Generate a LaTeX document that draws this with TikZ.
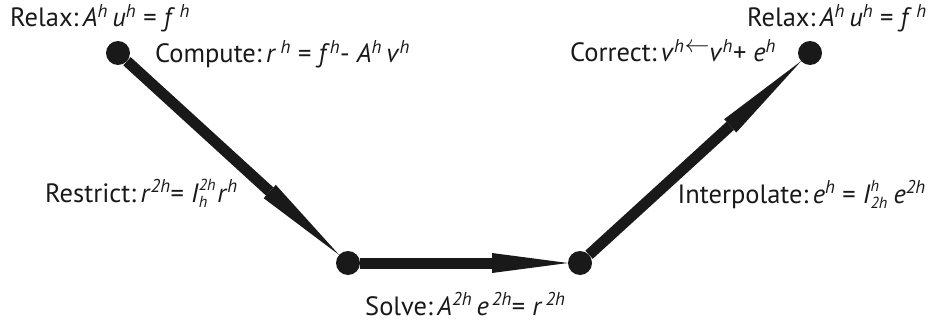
\documentclass[tikz,border=0pt]{standalone}
\usepackage{fontspec}
\setmainfont{PT Sans}
\usetikzlibrary{calc}
\newcommand\hup[1]{\textsuperscript{\itshape #1}}
\newcommand\supsub[2]{\makebox[0.7em][l]{\raisebox{0.42em}{\rlap{\fontsize{16pt}{16pt}\selectfont\itshape #1}}\raisebox{-0.22em}{\fontsize{16pt}{16pt}\selectfont\itshape #2}}}
\tikzset{
  dot/.style={circle,fill=black!90,minimum size=24pt,inner sep=0pt},
  lbl/.style={anchor=base west,inner sep=0pt,font=\fontsize{26.5pt}{30pt}\selectfont,text=black!90},
  shaft/.style={line width=11pt,black!90},
  head/.style={fill=black!90}
}
\begin{document}
\begin{tikzpicture}[x=1pt,y=-1pt]
\useasboundingbox (0,0) rectangle (935,321);
\node[dot] (d1) at (118,53) {};
\node[dot] (d2) at (348,263) {};
\node[dot] (d3) at (580,263) {};
\node[dot] (d4) at (810,53) {};
% arrow 1
\coordinate (t1) at ($(d2)!12pt!(d1)$);
\coordinate (b1) at ($(d2)!106pt!(d1)$);
\draw[shaft] (d1) -- (b1);
\fill[head] (t1) -- ($(b1)!9pt!90:(t1)$) -- ($(b1)!9pt!-90:(t1)$) -- cycle;
% arrow 2
\coordinate (t2) at ($(d3)!12pt!(d2)$);
\coordinate (b2) at ($(d3)!88pt!(d2)$);
\draw[shaft] (d2) -- (b2);
\fill[head] (t2) -- ($(b2)!10pt!90:(t2)$) -- ($(b2)!10pt!-90:(t2)$) -- cycle;
% arrow 3
\coordinate (t3) at ($(d4)!12pt!(d3)$);
\coordinate (b3) at ($(d4)!108pt!(d3)$);
\draw[shaft] (d3) -- (b3);
\fill[head] (t3) -- ($(b3)!9pt!90:(t3)$) -- ($(b3)!9pt!-90:(t3)$) -- cycle;
% labels
\node[lbl] (l1) at (10,27) {Relax:\,\textit{A}\hup{h}\,\textit{u}\hup{h} = \textit{f}\,\hup{h}};
\node[lbl] (l2) at (155,63) {Compute:\,\textit{r}\,\hup{h} = \textit{f}\hup{h}- \textit{A}\hup{h}\,\textit{v}\hup{h}};
\node[lbl,anchor=base east] (l3) at (927,27) {Relax:\,\textit{A}\hup{h}\,\textit{u}\hup{h} = \textit{f}\,\hup{h}};
\node[lbl] (l4) at (570,62) {Correct:\,\textit{v}\hup{h}\raisebox{0.36em}{\fontsize{24pt}{24pt}\selectfont$\leftarrow$}\textit{v}\hup{h}+ \textit{e}\hup{h}};
\node[lbl] (l5) at (45,202) {Restrict:\,\textit{r}\hup{2h}= \textit{I}\supsub{2h}{h}\textit{r}\hup{h}};
\node[lbl,anchor=base east] (l6) at (926,203) {Interpolate:\,\textit{e}\hup{h} = \textit{I}\supsub{h}{2h}\,\textit{e}\hup{2h}};
\node[lbl] (l7) at (365,315) {Solve:\,\textit{A}\hup{2h}\,\textit{e}\hup{\,2h}= \textit{r}\hup{\,2h}};
\end{tikzpicture}
\end{document}
